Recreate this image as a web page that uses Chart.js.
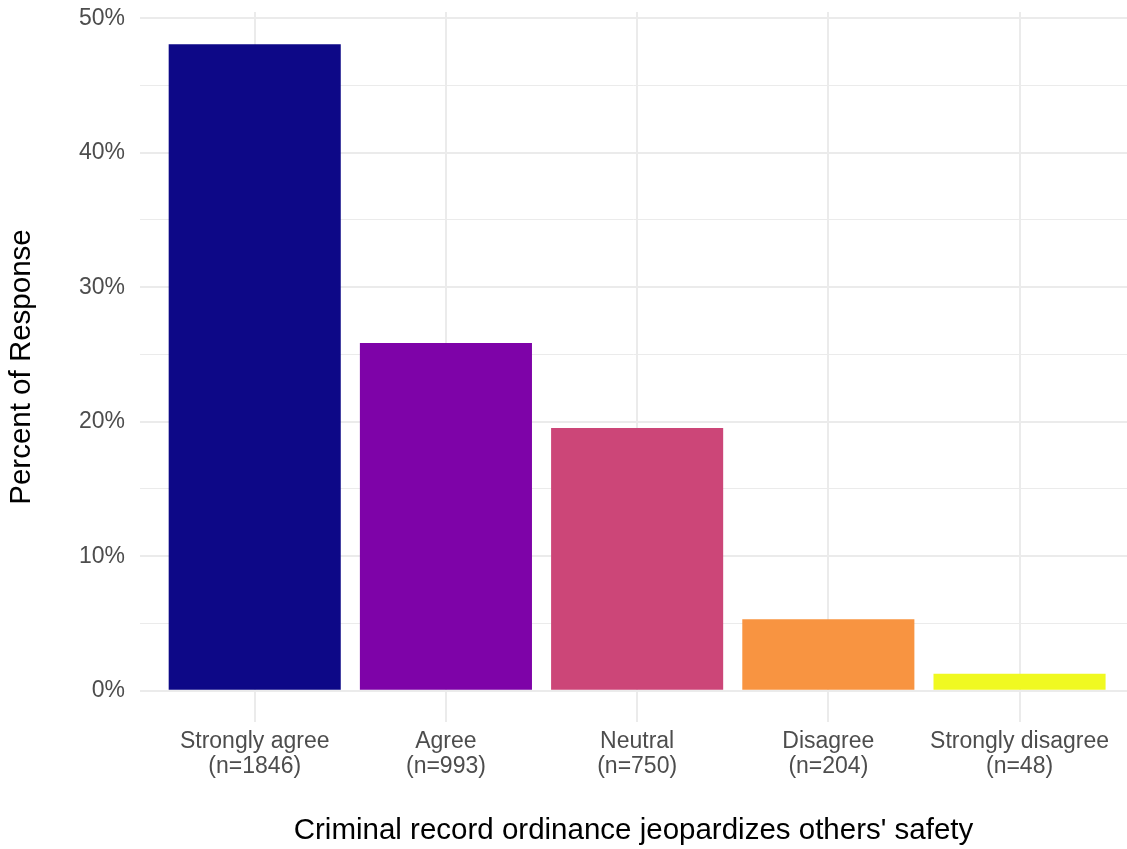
<!DOCTYPE html>
<html>
<head>
<meta charset="utf-8">
<script src="https://cdn.jsdelivr.net/npm/chart.js@4"></script>
<style>
html,body{margin:0;padding:0;background:#fff;overflow:hidden;}
#wrap{width:1127px;height:849px;position:relative;}
</style>
</head>
<body>
<div id="wrap"><canvas id="c" width="1127" height="849"></canvas></div>
<script>
const categories = ["Strongly agree", "Agree", "Neutral", "Disagree", "Strongly disagree"];
const counts = [1846, 993, 750, 204, 48];
const percents = [48.06, 25.85, 19.53, 5.31, 1.25];
const colors = ["#0D0887", "#7E03A8", "#CC4678", "#F89441", "#F0F921"];
const yTicks = [0, 5, 10, 15, 20, 25, 30, 35, 40, 45, 50];
const xPositions = [1, 2, 3, 4, 5];

const FONT = "'Liberation Sans', Arial, sans-serif";

new Chart(document.getElementById('c'), {
  type: 'bar',
  data: {
    datasets: [{
      data: xPositions.map((x, i) => ({x: x, y: percents[i]})),
      backgroundColor: colors,
      borderWidth: 0,
      barPercentage: 0.9,
      categoryPercentage: 1.0
    }]
  },
  options: {
    responsive: false,
    animation: false,
    layout: {padding: {top: 12, right: 0, bottom: 0, left: 0}},
    plugins: {legend: {display: false}, tooltip: {enabled: false}},
    scales: {
      x: {
        type: 'linear',
        offset: false,
        min: 0.4,
        max: 5.562,
        afterBuildTicks: s => { s.ticks = xPositions.map(v => ({value: v})); },
        afterFit: s => { s.height = 127; s.paddingLeft = 0; s.paddingRight = 0; },
        grid: {color: '#EBEBEB', lineWidth: 2, drawTicks: false, offset: false},
        border: {display: false},
        ticks: {
          autoSkip: false,
          maxRotation: 0,
          padding: 7,
          color: '#4D4D4D',
          font: {family: FONT, size: 23, lineHeight: 1.1},
          callback: (v) => {
            const i = xPositions.indexOf(v);
            return i >= 0 ? [categories[i], '(n=' + counts[i] + ')'] : '';
          }
        },
        title: {
          display: true,
          text: "Criminal record ordinance jeopardizes others' safety",
          color: '#000',
          font: {family: FONT, size: 29.5, lineHeight: 1.2},
          padding: {top: 0, bottom: 0}
        }
      },
      y: {
        min: -2.33,
        max: 50.46,
        afterBuildTicks: s => { s.ticks = yTicks.map(v => ({value: v})); },
        afterFit: s => { s.width = 140; s.paddingTop = 0; s.paddingBottom = 0; },
        grid: {
          drawTicks: false,
          color: '#EBEBEB',
          lineWidth: ctx => (ctx.tick && ctx.tick.value % 10 === 0) ? 2 : 1
        },
        border: {display: false},
        ticks: {
          padding: 15,
          color: '#4D4D4D',
          font: {family: FONT, size: 23},
          callback: v => (v % 10 === 0) ? v + '%' : ''
        },
        title: {
          display: true,
          text: 'Percent of Response',
          color: '#000',
          font: {family: FONT, size: 29.5, lineHeight: 1.2},
          padding: {top: 4.5, bottom: 0}
        }
      }
    }
  }
});
</script>
</body>
</html>
